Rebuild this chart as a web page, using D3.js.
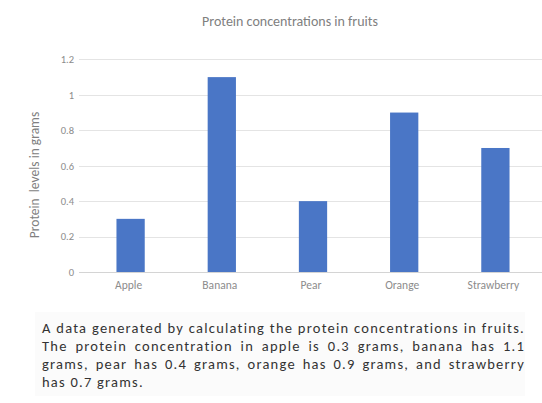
<!DOCTYPE html>
<html>
<head>
<meta charset="utf-8">
<script src="https://cdn.jsdelivr.net/npm/d3@7"></script>
<style>
  html, body { margin: 0; padding: 0; background: #fff; }
  svg { display: block; }
</style>
</head>
<body>
<svg id="chart" width="542" height="403"></svg>
<script>
// Protein per fruit, in grams
const fruits = ["Apple", "Banana", "Pear", "Orange", "Strawberry"];
const protein = [0.3, 1.1, 0.4, 0.9, 0.7];
const yTicks = [0, 0.2, 0.4, 0.6, 0.8, 1, 1.2];

const chartTitle = "Protein concentrations in fruits";
const yTitle = "Protein  levels in grams";
const captionLines = [
  "A data generated by calculating the protein concentrations in fruits.",
  "The protein concentration in apple is 0.3 grams, banana has 1.1",
  "grams, pear has 0.4 grams, orange has 0.9 grams, and strawberry",
  "has 0.7 grams."
];

const W = 542, H = 403;
const svg = d3.select("#chart");
const labelFont = "Carlito, Lato, sans-serif";

const x = d3.scaleBand()
  .domain(fruits)
  .range([85, 541])
  .paddingInner(0.69)
  .paddingOuter(0.345);

const y = d3.scaleLinear()
  .domain([0, 1.2])
  .range([272, 59.4]);

// caption panel background
svg.append("rect")
  .attr("x", 35).attr("y", 312)
  .attr("width", 490).attr("height", 84)
  .attr("fill", "#fbfbfb");

// horizontal gridlines
svg.append("g")
  .selectAll("line")
  .data(yTicks)
  .join("line")
  .attr("x1", 79)
  .attr("x2", W)
  .attr("y1", d => Math.round(y(d)) + 0.5)
  .attr("y2", d => Math.round(y(d)) + 0.5)
  .attr("stroke", d => d === 0 ? "#d4d4d4" : "#e4e4e4")
  .attr("stroke-width", 1);

// y tick labels
const yAxis = d3.axisLeft(y).tickValues(yTicks).tickSize(0).tickPadding(0)
  .tickFormat(d => d3.format("~g")(d));
const gy = svg.append("g").attr("transform", "translate(74,0)").call(yAxis);
gy.select(".domain").remove();
gy.selectAll("text")
  .attr("fill", "#8c8c8c")
  .style("font-family", labelFont)
  .style("font-size", "10.5px");

// x category labels
const xAxis = d3.axisBottom(x).tickSize(0).tickPadding(0);
const gx = svg.append("g").attr("transform", "translate(-2,281)").call(xAxis);
gx.select(".domain").remove();
gx.selectAll("text")
  .attr("fill", "#8c8c8c")
  .style("font-family", labelFont)
  .style("font-size", "11.5px");

// bars
svg.append("g")
  .selectAll("rect")
  .data(fruits.map((f, i) => ({ f, v: protein[i] })))
  .join("rect")
  .attr("x", d => x(d.f))
  .attr("width", x.bandwidth())
  .attr("y", d => y(d.v))
  .attr("height", d => y(0) - y(d.v))
  .attr("fill", "#4a76c6");

// chart title
svg.append("text")
  .attr("x", 290)
  .attr("y", 26)
  .attr("text-anchor", "middle")
  .attr("fill", "#808080")
  .style("font-family", labelFont)
  .style("font-size", "14px")
  .text(chartTitle);

// y axis title
svg.append("text")
  .attr("transform", "translate(39,175) rotate(-90)")
  .attr("text-anchor", "middle")
  .attr("fill", "#808080")
  .style("font-family", labelFont)
  .style("font-size", "13.5px")
  .style("white-space", "pre")
  .text(yTitle);

// justified caption: letter-spacing lets the first line fill the block,
// word gaps of the other full lines are then spread to the same width
const capLeft = 42, capWidth = 483, capSize = 14.5;
const cap = svg.append("g");
const probe = cap.append("text")
  .style("font-family", labelFont)
  .style("font-size", capSize + "px")
  .text(captionLines[0]);
const widest = probe.node().getComputedTextLength();
probe.remove();
const tracking = Math.max(0, (capWidth - 2 - widest) / captionLines[0].length);

captionLines.forEach((line, i) => {
  const t = cap.append("text")
    .attr("x", capLeft)
    .attr("y", 333 + i * 18)
    .attr("fill", "#333333")
    .style("font-family", labelFont)
    .style("font-size", capSize + "px")
    .style("letter-spacing", tracking.toFixed(2) + "px")
    .style("white-space", "pre")
    .text(line);
  if (i < captionLines.length - 1) {
    const natural = t.node().getComputedTextLength();
    const gaps = (line.match(/ /g) || []).length;
    if (gaps > 0 && natural < capWidth) {
      t.style("word-spacing", ((capWidth - natural) / gaps).toFixed(2) + "px");
    }
  }
});
</script>
</body>
</html>
